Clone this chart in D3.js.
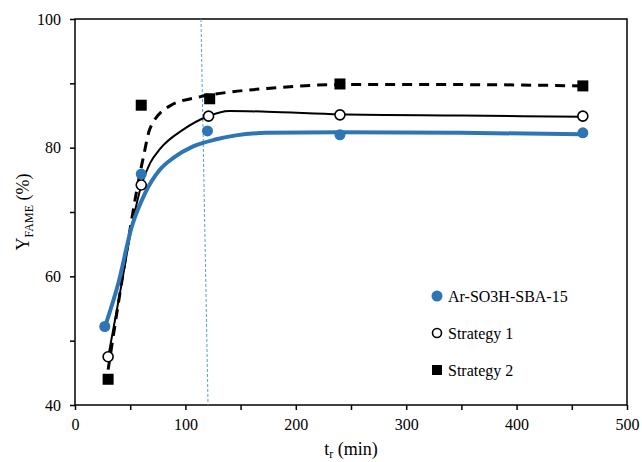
<!DOCTYPE html>
<html>
<head>
<meta charset="utf-8">
<script src="https://cdn.jsdelivr.net/npm/d3@7"></script>
<style>
  body { margin: 0; background: #fff; }
  svg text { font-family: "Liberation Serif", "DejaVu Serif", "Times New Roman", serif !important; fill: #000; }
</style>
</head>
<body>
<svg id="chart" width="642" height="462"></svg>
<script>
// measured points (t in min, yield in %)
var seriesNames = ["Ar-SO3H-SBA-15", "Strategy 1", "Strategy 2"]
var blueT = [27, 60, 120, 240, 460]
var blueY = [52.2, 75.9, 82.6, 82.0, 82.3]
var s1T = [30, 60, 121, 240, 460]
var s1Y = [47.5, 74.2, 84.9, 85.1, 84.9]
var s2T = [30, 60, 122, 240, 460]
var s2Y = [44.0, 86.6, 87.6, 89.9, 89.6]

// fitted curves
var blueFit = [[27.2, 52.2], [39.2, 58.9], [51.4, 67.7], [63.4, 72.9], [77, 76.6], [89, 78.4],
  [107, 80.2], [128, 81.3], [173, 82.3], [240, 82.4], [350, 82.3], [460, 82.1]]
var s1Fit = [[30, 47.4], [42.3, 58.9], [51.4, 67.7], [60.4, 74.3], [68, 77.6], [77, 79.8], [98, 82.8],
  [119.3, 84.8], [140, 85.7], [174, 85.6], [240, 85.2], [350, 85.0], [460, 84.8]]
var s2Fit = [[30, 45.5], [39, 55.5], [48.3, 65.6], [55, 72.5], [62, 78.6], [68, 83.0], [86, 86.5],
  [113, 87.9], [143, 88.7], [174, 89.2], [240, 89.8], [350, 89.8], [460, 89.6]]

var marker = [[114.1, 100], [120.5, 40]]

var xTicks = [0, 100, 200, 300, 400, 500]
var yTicks = [40, 60, 80, 100]

var blue = "#2e75b6"

var margin = { left: 75, top: 19 }
var width = 552, height = 386

var svg = d3.select("#chart")
var g = svg.append("g").attr("transform", "translate(" + margin.left + "," + margin.top + ")")

var x = d3.scaleLinear().domain([0, 500]).range([0, width])
var y = d3.scaleLinear().domain([40, 100]).range([height, 0])

// frame
g.append("rect")
  .attr("width", width).attr("height", height)
  .attr("fill", "none").attr("stroke", "#000").attr("stroke-width", 1.5)

// minor ticks
g.append("g").attr("transform", "translate(0," + height + ")")
  .call(d3.axisBottom(x).tickValues(d3.range(0, 501, 50)).tickSize(5).tickFormat(""))
  .call(a => a.select(".domain").remove())
  .call(a => a.selectAll("line").attr("stroke-width", 1.5))
g.append("g")
  .call(d3.axisLeft(y).tickValues(d3.range(40, 101, 10)).tickSize(5).tickFormat(""))
  .call(a => a.select(".domain").remove())
  .call(a => a.selectAll("line").attr("stroke-width", 1.5))

// labelled axes
g.append("g").attr("transform", "translate(0," + height + ")")
  .call(d3.axisBottom(x).tickValues(xTicks).tickSize(0).tickPadding(14))
  .call(a => a.select(".domain").remove())
  .selectAll("text").style("font-size", "16px")
g.append("g")
  .call(d3.axisLeft(y).tickValues(yTicks).tickSize(0).tickPadding(14))
  .call(a => a.select(".domain").remove())
  .selectAll("text").style("font-size", "16px")

// reaction-time marker
g.append("line")
  .attr("x1", x(marker[0][0])).attr("y1", y(marker[0][1]))
  .attr("x2", x(marker[1][0])).attr("y2", y(marker[1][1]))
  .attr("stroke", "#5b9bd5").attr("stroke-width", 1).attr("stroke-dasharray", "3,2")

var line = d3.line().x(d => x(d[0])).y(d => y(d[1])).curve(d3.curveMonotoneX)

g.append("path").datum(s2Fit).attr("d", line)
  .attr("fill", "none").attr("stroke", "#000").attr("stroke-width", 3).attr("stroke-dasharray", "10,7")
g.append("path").datum(s1Fit).attr("d", line)
  .attr("fill", "none").attr("stroke", "#000").attr("stroke-width", 2)
g.append("path").datum(blueFit).attr("d", line)
  .attr("fill", "none").attr("stroke", blue).attr("stroke-width", 4)

// markers
g.selectAll(".sq").data(d3.zip(s2T, s2Y)).enter().append("rect")
  .attr("x", d => x(d[0]) - 5.5).attr("y", d => y(d[1]) - 5.5)
  .attr("width", 11).attr("height", 11).attr("fill", "#000")
g.selectAll(".oc").data(d3.zip(s1T, s1Y)).enter().append("circle")
  .attr("cx", d => x(d[0])).attr("cy", d => y(d[1])).attr("r", 5)
  .attr("fill", "#fff").attr("stroke", "#000").attr("stroke-width", 1.6)
g.selectAll(".bc").data(d3.zip(blueT, blueY)).enter().append("circle")
  .attr("cx", d => x(d[0])).attr("cy", d => y(d[1])).attr("r", 5.5)
  .attr("fill", blue)

// legend
var lg = svg.append("g").attr("transform", "translate(437,296)")
var rows = lg.selectAll("g").data(seriesNames).enter().append("g")
  .attr("transform", (d, i) => "translate(0," + i * 37 + ")")
rows.append("text").attr("x", 11).attr("y", 5.5).style("font-size", "16px").text(d => d)
rows.filter((d, i) => i == 0).append("circle").attr("r", 5.5).attr("fill", blue)
rows.filter((d, i) => i == 1).append("circle").attr("r", 4.5)
  .attr("fill", "#fff").attr("stroke", "#000").attr("stroke-width", 1.6)
rows.filter((d, i) => i == 2).append("rect").attr("x", -5).attr("y", -5)
  .attr("width", 10).attr("height", 10).attr("fill", "#000")

// axis titles
var xt = svg.append("text").attr("x", 351).attr("y", 455).attr("text-anchor", "middle")
  .style("font-size", "18px")
xt.append("tspan").text("t")
xt.append("tspan").attr("dy", 3).style("font-size", "12px").text("r")
xt.append("tspan").attr("dy", -3).text(" (min)")

var yt = svg.append("text").attr("transform", "translate(29,212) rotate(-90)")
  .attr("text-anchor", "middle").style("font-size", "18px")
yt.append("tspan").text("Y")
yt.append("tspan").attr("dy", 4).style("font-size", "12px").text("FAME")
yt.append("tspan").attr("dy", -4).text(" (%)")
</script>
</body>
</html>
